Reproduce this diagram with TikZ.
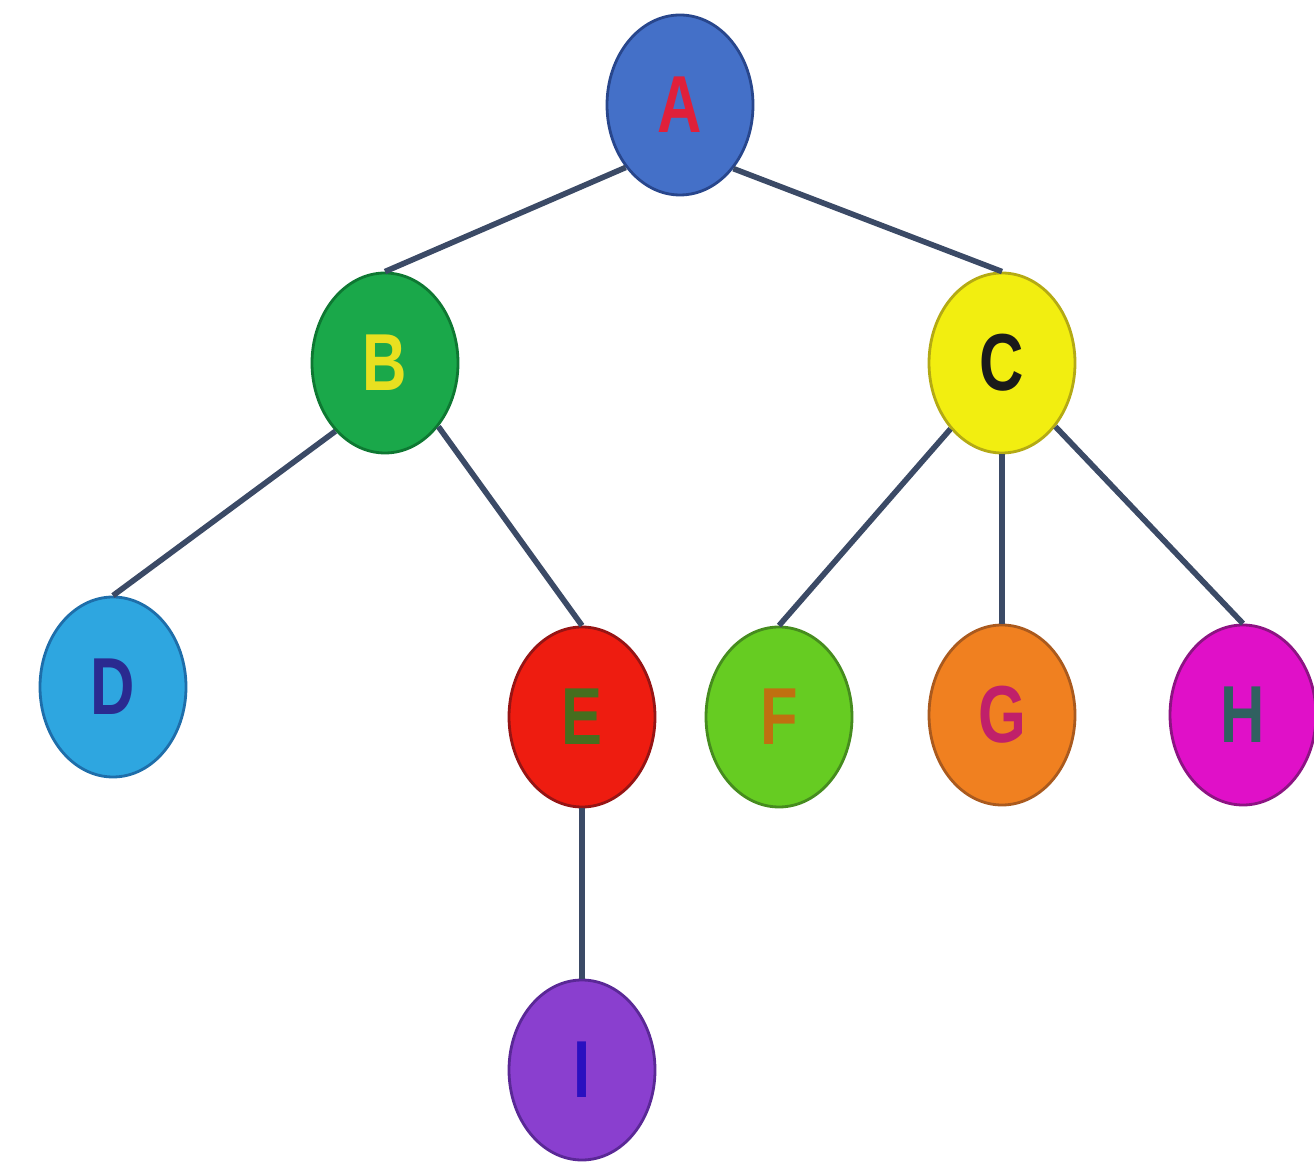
\documentclass[tikz,border=0pt]{standalone}
\usepackage{fontspec}
\setmainfont{Liberation Sans}
\usetikzlibrary{shapes.geometric}

\definecolor{edgecol}{HTML}{3B4A66}
\newcommand{\ballletter}[1]{\scalebox{0.76}[1]{\bfseries #1}}

\begin{document}
\begin{tikzpicture}[
    ball/.style={ellipse, minimum width=1.46cm, minimum height=1.80cm, inner sep=0pt,
                 line width=0.8pt, font=\fontsize{23}{26}\selectfont},
    edge/.style={draw=edgecol, line width=1.6pt}
]
    \useasboundingbox (0,0) rectangle (13.14,11.69);

    % nodes
    \node[ball, fill={rgb,255:red,68;green,112;blue,200}, draw={rgb,255:red,40;green,70;blue,140}, text={rgb,255:red,224;green,32;blue,58}] (A) at (6.80,10.64) {\ballletter{A}};
    \node[ball, fill={rgb,255:red,26;green,168;blue,74}, draw={rgb,255:red,14;green,120;blue,50}, text={rgb,255:red,232;green,224;blue,32}] (B) at (3.85,8.06) {\ballletter{B}};
    \node[ball, fill={rgb,255:red,242;green,238;blue,16}, draw={rgb,255:red,180;green,170;blue,20}, text={rgb,255:red,26;green,26;blue,26}] (C) at (10.02,8.06) {\ballletter{C}};
    \node[ball, fill={rgb,255:red,46;green,166;blue,224}, draw={rgb,255:red,30;green,110;blue,170}, text={rgb,255:red,42;green,42;blue,144}] (D) at (1.13,4.82) {\ballletter{D}};
    \node[ball, fill={rgb,255:red,238;green,28;blue,16}, draw={rgb,255:red,150;green,20;blue,20}, text={rgb,255:red,70;green,110;blue,30}] (E) at (5.82,4.52) {\ballletter{E}};
    \node[ball, fill={rgb,255:red,102;green,204;blue,34}, draw={rgb,255:red,70;green,140;blue,30}, text={rgb,255:red,192;green,112;blue,16}] (F) at (7.79,4.52) {\ballletter{F}};
    \node[ball, fill={rgb,255:red,240;green,128;blue,32}, draw={rgb,255:red,170;green,90;blue,30}, text={rgb,255:red,192;green,32;blue,106}] (G) at (10.02,4.54) {\ballletter{G}};
    \node[ball, fill={rgb,255:red,224;green,16;blue,200}, draw={rgb,255:red,140;green,20;blue,130}, text={rgb,255:red,48;green,96;blue,96}] (H) at (12.43,4.54) {\ballletter{H}};
    \node[ball, fill={rgb,255:red,138;green,63;blue,207}, draw={rgb,255:red,90;green,40;blue,150}, text={rgb,255:red,42;green,16;blue,192}] (I) at (5.82,0.99) {\ballletter{I}};

    % connectors
    \foreach \p/\c in {A.229/B, A.310/C, B.234/D, B.310/E, C.232/F, C.south/G, C.310/H, E.south/I}
        \draw[edge] (\p) -- (\c.north);

\end{tikzpicture}
\end{document}
